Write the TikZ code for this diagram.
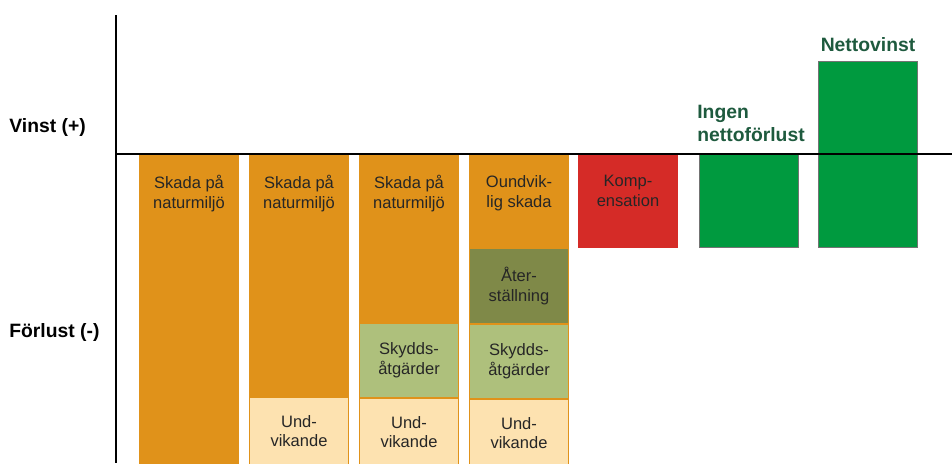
\documentclass[tikz,border=0pt]{standalone}
\usepackage{fontspec}
\setmainfont{Liberation Sans}
\usetikzlibrary{positioning}

\definecolor{skada}{HTML}{E0921A}
\definecolor{undv}{HTML}{FDE2B0}
\definecolor{skydd}{HTML}{AEC07C}
\definecolor{ater}{HTML}{7F8948}
\definecolor{komp}{HTML}{D52B27}
\definecolor{netto}{HTML}{009A3F}
\definecolor{rubrik}{HTML}{1E5A3E}

\begin{document}
\begin{tikzpicture}[
    x=0.02cm, y=-0.02cm,
    box/.style={rectangle, anchor=north west, minimum width=1.98cm, inner sep=0pt, align=center, line width=0.6pt, text=black!85, font=\fontsize{9.4}{11.3}\selectfont},
    skadabox/.style={box, fill=skada, draw=skada},
    undvbox/.style={box, fill=undv, draw=skada},
    skyddbox/.style={box, fill=skydd, draw=skada},
    aterbox/.style={box, fill=ater, draw=skada},
    kompbox/.style={box, fill=komp, draw=komp},
    nettobox/.style={box, fill=netto, draw=black!55},
    txt/.style={anchor=north, inner sep=0pt, align=center, text=black!85, font=\fontsize{9.4}{11.3}\selectfont},
    head/.style={inner sep=0pt, align=left, text=rubrik, font=\bfseries\fontsize{11}{13}\selectfont},
    side/.style={anchor=west, inner sep=0pt, font=\bfseries\fontsize{11}{13}\selectfont},
    axis/.style={line width=1.2pt}
  ]
    \useasboundingbox (0,0) rectangle (952,463);

    % column 1
    \node[skadabox, minimum height=6.18cm] (sk1) at (139,154) {};
    \node[txt] (t1) at ([yshift=-0.42cm]sk1.north) {Skada på\\naturmiljö};

    % column 2
    \node[skadabox, minimum height=4.84cm] (sk2) at (249,154) {};
    \node[txt] (t2) at ([yshift=-0.42cm]sk2.north) {Skada på\\naturmiljö};
    \node[undvbox, minimum height=1.34cm] (uv2) at (sk2.south west) {Und-\\vikande};

    % column 3
    \node[skadabox, minimum height=3.36cm] (sk3) at (359,154) {};
    \node[txt] (t3) at ([yshift=-0.42cm]sk3.north) {Skada på\\naturmiljö};
    \node[skyddbox, minimum height=1.48cm] (sd3) at (sk3.south west) {Skydds-\\åtgärder};
    \node[undvbox, minimum height=1.34cm] (uv3) at (sd3.south west) {Und-\\vikande};

    % column 4
    \node[skadabox, minimum height=1.86cm] (sk4) at (469,154) {};
    \node[txt] (t4) at ([yshift=-0.42cm]sk4.north) {Oundvik-\\lig skada};
    \node[aterbox, minimum height=1.5cm] (at4) at (sk4.south west) {Åter-\\ställning};
    \node[skyddbox, minimum height=1.48cm] (sd4) at (at4.south west) {Skydds-\\åtgärder};
    \node[undvbox, minimum height=1.34cm] (uv4) at (sd4.south west) {Und-\\vikande};

    % kompensation and result
    \node[kompbox, minimum height=1.86cm] (komp) at (578,154) {};
    \node[txt] (t5) at ([yshift=-0.42cm]komp.north) {Komp-\\ensation};
    \node[nettobox, minimum height=1.86cm] (ingen) at (699,154) {};
    \node[nettobox, minimum height=3.72cm] (netto) at (818,61) {};
    \node[head, anchor=south west] (l6) at (697,142) {Ingen\\nettoförlust};
    \node[head, anchor=south] (l7) at (netto.north |- 0,52) {Nettovinst};

    % axes
    \node[side] (vinst) at (9,128) {Vinst (+)};
    \node[side] (forlust) at (9,332) {Förlust (-)};
    \coordinate (top) at (116,15);
    \coordinate (bot) at (116,463);
    \coordinate (o) at (116,154);
    \coordinate (end) at (952,154);
    \draw[axis] (top) -- (bot);
    \draw[axis] (o) -- (end);
  \end{tikzpicture}
\end{document}
